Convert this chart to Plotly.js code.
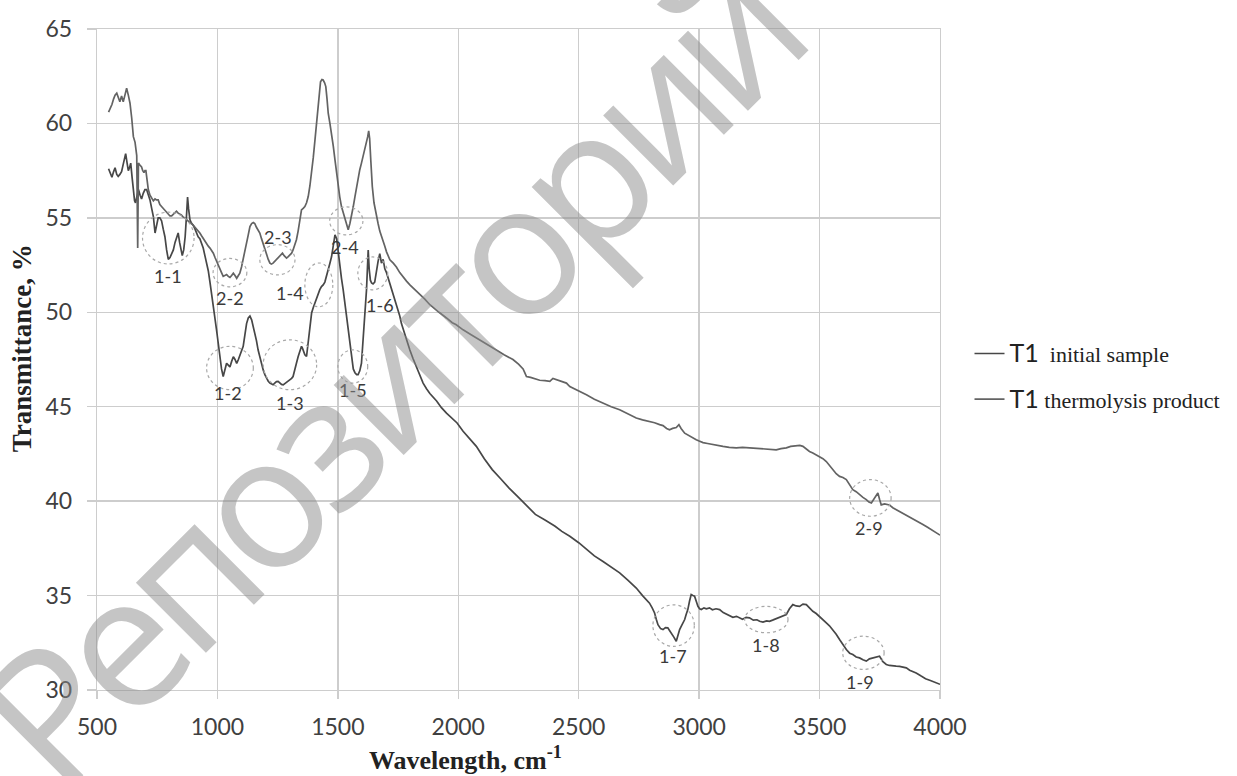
<!DOCTYPE html>
<html>
<head>
<meta charset="utf-8">
<script src="https://cdn.plot.ly/plotly-3.0.1.min.js"></script>
<style>html,body{margin:0;padding:0;background:#fff;}#chart{width:1237px;height:776px;}</style>
</head>
<body>
<div id="chart"></div>
<script>
// ---- data ----
const wnInitial = [548,556,562,569,575,582,588,595,602,610,619,625,630,636,640,646,651,656,660,666,672,679,685,692,699,706,713,720,727,734,741,747,754,761,768,775,782,789,796,803,810,817,824,830,837,843,850,854,860,866,872,876,880,886,893,900,907,914,920,927,934,941,948,955,962,969,976,983,990,996,1003,1010,1017,1024,1031,1038,1045,1052,1059,1066,1073,1080,1087,1093,1100,1107,1114,1121,1128,1135,1142,1149,1155,1162,1169,1176,1183,1190,1197,1204,1211,1218,1224,1231,1238,1245,1252,1259,1266,1273,1280,1287,1294,1301,1308,1314,1321,1328,1335,1342,1349,1353,1357,1363,1370,1377,1384,1391,1398,1405,1411,1418,1425,1432,1439,1446,1453,1460,1467,1474,1481,1488,1495,1501,1508,1515,1522,1529,1536,1543,1550,1557,1564,1571,1578,1584,1591,1598,1605,1612,1619,1623,1626,1630,1635,1640,1646,1653,1660,1667,1674,1681,1688,1695,1702,1709,1716,1723,1730,1737,1743,1750,1757,1764,1771,1778,1785,1799,1812,1826,1840,1854,1868,1882,1910,1930,1951,1975,1995,2020,2048,2075,2108,2141,2175,2210,2250,2287,2320,2360,2402,2430,2463,2500,2532,2565,2601,2635,2670,2705,2739,2765,2794,2805,2815,2822,2829,2840,2850,2860,2870,2877,2884,2895,2905,2912,2919,2926,2933,2940,2946,2953,2960,2967,2974,2981,2988,2995,3002,3009,3020,3030,3043,3055,3070,3085,3100,3115,3127,3140,3155,3168,3180,3195,3209,3225,3240,3251,3265,3280,3292,3305,3320,3334,3348,3362,3375,3389,3403,3417,3431,3445,3458,3472,3486,3500,3514,3528,3541,3555,3569,3583,3597,3611,3625,3638,3652,3666,3680,3694,3707,3721,3735,3749,3763,3777,3790,3804,3818,3832,3846,3860,3874,3887,3901,3920,3940,3960,3980,4000];
const tInitial = [57.6,57.3,57.15,57.45,57.65,57.3,57.2,57.3,57.45,57.9,58.4,57.9,57.5,57.7,57.9,57.1,56.3,55.9,55.8,56.1,56.5,56.2,56.0,56.3,56.5,56.5,56.2,55.95,55.5,55.07,54.2,54.6,55.0,55.0,54.85,54.4,54.0,53.3,52.8,52.9,53.1,53.3,53.7,54.0,54.2,53.7,53.2,53.0,53.3,54.0,55.2,56.1,55.5,54.9,54.7,54.6,54.4,54.2,54.0,53.9,53.66,53.4,53.0,52.6,52.2,51.6,51.0,50.4,49.8,49.1,48.4,47.6,47.0,46.6,46.9,47.3,47.2,47.1,47.4,47.65,47.5,47.3,47.5,47.7,47.9,48.2,48.8,49.4,49.7,49.8,49.6,49.25,48.9,48.5,48.0,47.6,47.25,46.95,46.7,46.5,46.35,46.25,46.2,46.16,46.25,46.33,46.34,46.25,46.18,46.16,46.22,46.3,46.34,46.4,46.5,46.6,46.9,47.3,47.65,48.0,48.2,48.1,47.9,47.75,47.66,48.4,49.2,49.96,50.25,50.5,50.75,51.0,51.2,51.36,51.45,51.6,51.9,52.25,52.6,52.95,53.6,54.1,53.9,53.2,52.4,51.8,51.2,50.5,49.8,49.1,48.4,47.4,47.0,46.8,46.7,46.7,46.9,47.3,48.55,49.8,51.2,52.4,53.3,52.3,51.7,51.55,51.5,51.6,52.2,52.7,53.1,52.6,52.8,52.3,52.1,51.8,51.55,51.3,51.0,50.7,50.4,50.1,49.8,49.4,49.1,48.8,48.55,48.0,47.55,47.1,46.65,46.25,45.95,45.7,45.3,44.95,44.66,44.4,44.14,43.7,43.3,42.9,42.25,41.67,41.2,40.7,40.2,39.73,39.3,39.0,38.67,38.4,38.14,37.8,37.43,37.1,36.8,36.5,36.2,35.8,35.4,35.0,34.6,34.35,34.08,33.75,33.46,33.25,33.2,33.3,33.29,33.15,33.03,32.8,32.58,32.9,33.2,33.38,33.55,33.73,34.0,34.26,34.7,35.05,35.0,34.97,34.7,34.43,34.3,34.26,34.35,34.3,34.35,34.25,34.3,34.26,34.1,34.0,33.9,33.85,33.9,33.82,33.75,33.85,33.82,33.7,33.72,33.64,33.6,33.66,33.64,33.7,33.78,33.82,33.9,34.0,34.3,34.52,34.45,34.43,34.55,34.52,34.35,34.17,34.05,33.9,33.7,33.55,33.4,33.2,32.95,32.67,32.4,32.14,31.95,31.88,31.75,31.7,31.6,31.53,31.65,31.7,31.75,31.79,31.5,31.35,31.3,31.3,31.26,31.25,31.2,31.17,31.05,30.98,30.9,30.75,30.6,30.5,30.38,30.3];

const wnProduct = [548,556,562,569,575,582,589,595,602,609,616,623,630,637,644,651,658,662,665,669,672,678,685,690,695,699,703,708,713,720,727,734,741,747,754,761,768,775,782,789,796,803,810,817,824,830,837,844,850,857,865,872,879,886,893,900,907,914,920,927,934,941,948,955,962,969,976,983,990,996,1003,1010,1017,1024,1031,1038,1045,1052,1059,1066,1073,1080,1087,1093,1100,1107,1114,1121,1128,1135,1142,1149,1155,1162,1169,1176,1183,1190,1197,1204,1211,1218,1224,1231,1238,1245,1252,1259,1266,1270,1277,1287,1294,1301,1308,1314,1321,1328,1335,1342,1349,1356,1363,1370,1377,1384,1391,1398,1405,1411,1418,1423,1428,1434,1439,1445,1450,1455,1460,1467,1474,1481,1488,1495,1501,1508,1515,1522,1529,1536,1543,1550,1557,1564,1571,1578,1584,1591,1598,1605,1612,1619,1624,1628,1632,1637,1643,1650,1660,1667,1674,1681,1688,1695,1702,1709,1716,1730,1743,1757,1771,1785,1799,1812,1826,1840,1861,1882,1900,1920,1951,1975,1990,2020,2055,2089,2120,2158,2190,2227,2250,2262,2269,2276,2283,2300,2315,2338,2360,2380,2393,2405,2420,2435,2449,2463,2480,2500,2532,2565,2601,2635,2670,2705,2739,2765,2794,2815,2836,2850,2865,2877,2890,2905,2916,2925,2940,2961,2975,2988,3000,3016,3035,3057,3075,3099,3125,3154,3180,3209,3235,3265,3290,3320,3340,3362,3380,3403,3418,3431,3445,3458,3472,3486,3500,3514,3528,3541,3555,3569,3583,3597,3611,3625,3638,3652,3666,3680,3694,3705,3715,3728,3742,3749,3756,3770,3790,3804,3818,3832,3846,3866,3887,3908,3929,3950,3970,3984,4000];
const tProduct = [60.6,60.8,61.0,61.3,61.5,61.6,61.35,61.15,61.45,61.15,61.5,61.86,61.5,61.07,60.3,59.3,59.0,58.7,58.3,53.4,57.9,57.8,57.7,57.5,57.4,57.5,57.5,57.0,56.5,56.2,56.05,55.9,56.0,55.95,55.95,55.7,55.6,55.5,55.4,55.25,55.2,55.1,55.1,55.2,55.3,55.35,55.25,55.2,55.15,55.05,55.0,54.9,54.8,54.75,54.7,54.6,54.5,54.4,54.3,54.2,54.05,53.9,53.8,53.66,53.5,53.4,53.25,53.13,52.9,52.7,52.5,52.3,52.1,51.9,51.95,52.0,51.9,51.85,51.95,52.07,51.95,51.8,51.95,52.07,52.4,52.8,53.13,53.6,54.1,54.54,54.7,54.75,54.7,54.5,54.35,54.2,53.9,53.6,53.3,53.0,52.8,52.6,52.55,52.6,52.7,52.78,52.9,53.0,53.1,53.13,53.0,52.87,52.95,53.05,53.13,53.3,53.55,53.84,54.3,54.9,55.42,55.5,55.6,55.8,56.13,56.7,57.36,58.2,59.13,59.9,60.7,61.5,62.2,62.32,62.3,62.15,61.95,61.3,60.54,60.0,59.48,58.8,58.07,57.35,56.66,56.1,55.6,55.3,55.07,54.7,54.37,54.7,55.07,55.6,56.13,56.7,57.19,57.55,57.9,58.25,58.6,58.9,59.3,59.6,59.2,58.0,56.66,55.8,55.07,54.7,54.3,54.05,53.84,53.5,53.2,52.95,52.78,52.6,52.4,52.1,51.85,51.65,51.45,51.3,51.15,50.95,50.7,50.4,50.2,50.0,49.7,49.45,49.35,49.07,48.8,48.55,48.3,48.0,47.75,47.5,47.25,47.1,47.0,46.8,46.6,46.55,46.5,46.4,46.38,46.34,46.5,46.45,46.35,46.3,46.25,46.07,45.95,45.85,45.63,45.4,45.19,45.0,44.84,44.6,44.4,44.3,44.22,44.15,44.05,44.0,43.85,43.78,43.85,43.9,44.05,43.85,43.6,43.43,43.35,43.25,43.18,43.1,43.05,42.99,42.95,42.9,42.85,42.82,42.85,42.82,42.78,42.76,42.74,42.72,42.78,42.82,42.9,42.94,42.95,42.9,42.75,42.63,42.55,42.45,42.37,42.25,42.1,41.9,41.67,41.45,41.31,41.25,41.14,40.85,40.61,40.5,40.34,40.2,40.08,39.95,39.9,40.15,40.43,40.1,39.8,39.85,39.8,39.65,39.55,39.45,39.37,39.25,39.1,38.95,38.76,38.6,38.45,38.3,38.2];

const seriesNames = ['initial sample', 'thermolysis product'];
const xTicks = [500, 1000, 1500, 2000, 2500, 3000, 3500, 4000];
const yTicks = [30, 35, 40, 45, 50, 55, 60, 65];

// band labels (dotted circles) from the reference
const bandLabels = ['1-1','2-2','2-3','1-4','2-4','1-6','1-2','1-3','1-5','1-7','1-8','1-9','2-9'];
const bandCenterX = [796,1052,1249,1421,1535,1645,1052,1301,1562,2894,3279,3682,3711];
const bandCenterY = [53.93,52.1,52.78,51.45,54.84,52.06,47.05,47.22,47.13,33.41,33.73,31.97,40.17];
const bandRadiusX = [107,70,73,58,69,62,97,111,62,86,90,86,86];
const bandRadiusY = [1.37,0.75,0.8,1.16,0.74,0.87,1.15,1.32,0.88,1.1,0.7,0.88,0.97];
const bandTextX = [796,1052,1252,1301,1529,1674,1045,1301,1564,2891,3279,3666,3707];
const bandTextY = [51.9,50.77,54.0,51.0,53.48,50.4,45.72,45.2,45.9,31.8,32.4,30.45,38.58];

// ---- figure ----
const t1 = '<span style="font-family:Lato;font-size:25px">T1</span>';
const traces = [
  {x: wnInitial, y: tInitial, type: 'scatter', mode: 'lines', name: t1 + '  ' + seriesNames[0],
   legendgroup: 'a', line: {color: '#474747', width: 1.7}},
  {x: wnProduct, y: tProduct, type: 'scatter', mode: 'lines', name: t1 + ' ' + seriesNames[1],
   legendgroup: 'b', line: {color: '#636363', width: 1.7}}
];

const shapes = bandLabels.map((_, i) => ({
  type: 'circle', xref: 'x', yref: 'y',
  x0: bandCenterX[i] - bandRadiusX[i], x1: bandCenterX[i] + bandRadiusX[i],
  y0: bandCenterY[i] - bandRadiusY[i], y1: bandCenterY[i] + bandRadiusY[i],
  line: {color: '#a8a8a8', width: 1.2, dash: 'dot'}
}));

const annotations = bandLabels.map((lab, i) => ({
  x: bandTextX[i], y: bandTextY[i], xref: 'x', yref: 'y', text: lab, showarrow: false,
  font: {family: 'Lato', size: 18, color: '#3a3a3a'}
}));
// axis titles (placed as in the reference, not centred on the plot)
annotations.push({
  xref: 'paper', yref: 'paper', x: 0.4377, y: -0.104, xanchor: 'center', yanchor: 'middle',
  text: '<b>Wavelength, cm<sup>-1</sup></b>', showarrow: false,
  font: {family: 'Liberation Serif', size: 26, color: '#222222'}
});
annotations.push({
  xref: 'paper', yref: 'paper', x: -0.089, y: 0.517, xanchor: 'center', yanchor: 'middle',
  text: '<b>Transmittance, %</b>', showarrow: false, textangle: -90,
  font: {family: 'Liberation Serif', size: 27, color: '#222222'}
});
// repository watermark
annotations.push({
  xref: 'paper', yref: 'paper', x: 0.3416, y: 0.481, xanchor: 'center', yanchor: 'middle',
  text: '<span style="letter-spacing:-12px">Репозиторий</span>', showarrow: false, textangle: -45,
  font: {family: 'Open Sans', size: 185, color: 'rgba(140,140,140,0.5)'}
});

const gridC = '#cdcdcd';
const layout = {
  width: 1237, height: 776,
  margin: {l: 97, r: 297, t: 29, b: 86},
  paper_bgcolor: '#ffffff', plot_bgcolor: '#ffffff',
  showlegend: true,
  legend: {x: 1.035, y: 0.474, xanchor: 'left', yanchor: 'middle', tracegroupgap: 14,
           font: {family: 'Liberation Serif', size: 22, color: '#222222'}, bgcolor: 'rgba(0,0,0,0)'},
  xaxis: {range: [500, 4000], tickvals: xTicks, ticktext: xTicks.map(String),
          showgrid: true, gridcolor: gridC, gridwidth: 1.3, zeroline: false,
          showline: true, linecolor: gridC, linewidth: 1.3, mirror: true,
          ticks: 'outside', ticklen: 8, tickcolor: gridC, tickwidth: 1.3, ticklabelstandoff: 8,
          tickfont: {family: 'Lato', size: 23, color: '#404040'}},
  yaxis: {range: [30, 65], tickvals: yTicks, ticktext: yTicks.map(String),
          showgrid: true, gridcolor: gridC, gridwidth: 1.3, zeroline: false,
          showline: true, linecolor: gridC, linewidth: 1.3, mirror: true,
          ticks: 'outside', ticklen: 9, tickcolor: gridC, tickwidth: 1.3, ticklabelstandoff: 10,
          tickfont: {family: 'Lato', size: 23, color: '#404040'}},
  shapes: shapes,
  annotations: annotations
};

Plotly.newPlot('chart', traces, layout, {staticPlot: true, displayModeBar: false});
</script>
</body>
</html>
